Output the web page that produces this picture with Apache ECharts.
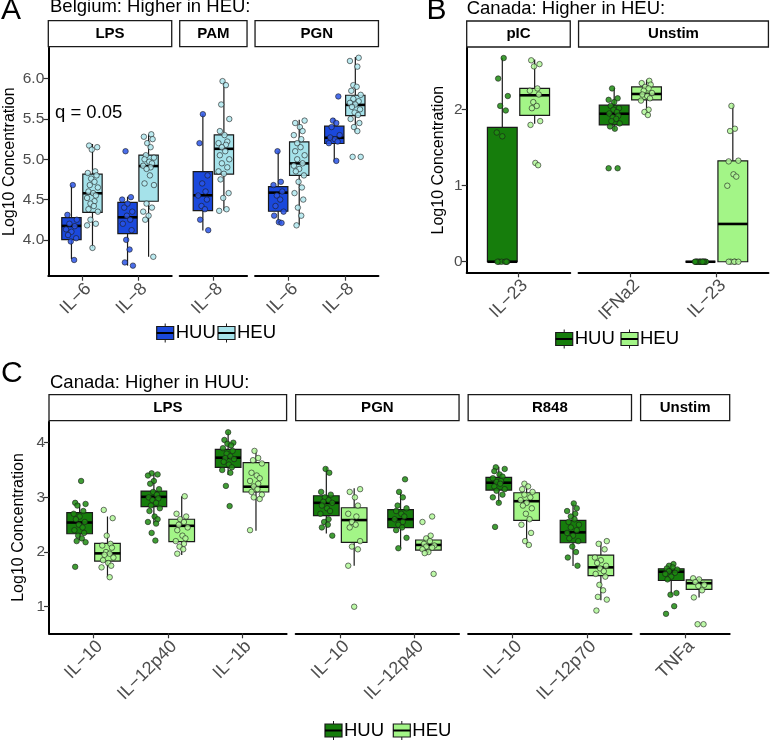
<!DOCTYPE html>
<html><head><meta charset="utf-8">
<script src="https://cdn.jsdelivr.net/npm/echarts@6/dist/echarts.min.js"></script>
<style>html,body{margin:0;padding:0;background:#fff}#c{width:770px;height:741px}</style>
</head><body><div id="c"></div>
<script>
// ---------------- DATA ----------------
// Panel A: Belgium, higher in HEU
const A_facets = ['LPS', 'PAM', 'PGN'];
const A_cats = [['IL−6', 'IL−8'], ['IL−8'], ['IL−6', 'IL−8']];
const A_yTicks = [4.0, 4.5, 5.0, 5.5, 6.0];
// [min, q1, median, q3, max]
const A_HUU_box = [
  [3.76, 4.004, 4.173, 4.276, 4.68],
  [3.68, 4.078, 4.28, 4.466, 4.536],
  [4.116, 4.363, 4.553, 4.846, 5.56],
  [4.21, 4.355, 4.586, 4.66, 5.10],
  [4.97, 5.196, 5.267, 5.411, 5.506]
];
const A_HEU_box = [
  [3.90, 4.342, 4.578, 4.817, 5.19],
  [3.79, 4.479, 4.916, 5.052, 5.31],
  [4.363, 4.817, 5.13, 5.304, 5.968],
  [4.18, 4.80, 4.949, 5.217, 5.49],
  [5.34, 5.543, 5.675, 5.795, 6.27]
];
const A_HUU_pts = [
  [4.68, 4.31, 4.25, 4.20, 4.17, 4.13, 4.10, 4.06, 4.02, 3.98, 3.75],
  [5.10, 4.53, 4.50, 4.45, 4.40, 4.35, 4.30, 4.25, 4.20, 4.12, 4.00, 3.88, 3.72, 3.68],
  [5.56, 5.20, 4.80, 4.70, 4.60, 4.55, 4.50, 4.42, 4.38, 4.25, 4.12],
  [5.10, 4.72, 4.68, 4.60, 4.55, 4.50, 4.42, 4.35, 4.30, 4.22, 4.21],
  [5.78, 5.48, 5.45, 5.40, 5.30, 5.27, 5.25, 5.22, 5.20, 4.98]
];
const A_HEU_pts = [
  [5.17, 5.15, 5.12, 4.85, 4.83, 4.80, 4.76, 4.72, 4.68, 4.65, 4.60, 4.58, 4.55, 4.52, 4.48, 4.45, 4.42, 4.38, 4.35, 4.25, 4.20, 4.18, 3.90],
  [5.31, 5.28, 5.25, 5.20, 5.15, 5.05, 5.02, 5.00, 4.97, 4.95, 4.92, 4.90, 4.88, 4.80, 4.70, 4.68, 4.45, 4.40, 4.35, 4.30, 4.25, 3.79],
  [5.97, 5.92, 5.68, 5.50, 5.35, 5.30, 5.22, 5.20, 5.18, 5.15, 5.10, 5.05, 5.00, 4.95, 4.90, 4.85, 4.82, 4.75, 4.58, 4.52, 4.38, 4.36],
  [5.48, 5.45, 5.40, 5.35, 5.30, 5.25, 5.20, 5.15, 5.10, 5.05, 5.00, 4.95, 4.92, 4.88, 4.85, 4.80, 4.72, 4.65, 4.58, 4.50, 4.40, 4.30, 4.18],
  [6.26, 6.22, 6.15, 5.92, 5.90, 5.85, 5.80, 5.75, 5.72, 5.70, 5.68, 5.65, 5.62, 5.58, 5.55, 5.50, 5.45, 5.40, 5.35, 5.03, 5.03]
];

// Panel B: Canada, higher in HEU
const B_facets = ['pIC', 'Unstim'];
const B_cats = [['IL−23'], ['IFNa2', 'IL−23']];
const B_yTicks = [0, 1, 2];
const B_HUU_box = [
  [0, 0, 0, 1.767, 2.68],
  [1.736, 1.80, 1.947, 2.06, 2.286],
  [0, 0, 0, 0, 0]
];
const B_HEU_box = [
  [1.815, 1.925, 2.19, 2.28, 2.66],
  [1.934, 2.13, 2.207, 2.30, 2.395],
  [0, 0, 0.497, 1.327, 2.066]
];
const B_HUU_pts = [
  [2.68, 2.41, 2.18, 2.05, 1.99, 1.70, 1.65, 0, 0, 0, 0, 0, 0],
  [2.28, 2.15, 2.13, 2.10, 2.05, 2.02, 2.00, 1.97, 1.95, 1.92, 1.90, 1.88, 1.85, 1.82, 1.78, 1.75, 1.23, 1.23],
  [0, 0, 0, 0, 0, 0, 0, 0, 0, 0, 0, 0, 0, 0, 0, 0]
];
const B_HEU_pts = [
  [2.65, 2.60, 2.57, 2.28, 2.25, 2.20, 2.10, 2.05, 2.02, 1.85, 1.80, 1.30, 1.27],
  [2.38, 2.35, 2.33, 2.30, 2.28, 2.25, 2.22, 2.20, 2.18, 2.15, 2.12, 2.00, 1.97, 1.93],
  [2.05, 1.75, 1.72, 1.33, 1.32, 1.15, 1.12, 1.00, 0, 0, 0, 0, 0]
];

// Panel C: Canada, higher in HUU
const C_facets = ['LPS', 'PGN', 'R848', 'Unstim'];
const C_cats = [['IL−10', 'IL−12p40', 'IL−1b'], ['IL−10', 'IL−12p40'], ['IL−10', 'IL−12p70'], ['TNFa']];
const C_yTicks = [1, 2, 3, 4];
const C_HUU_box = [
  [2.22, 2.335, 2.54, 2.72, 2.89],
  [2.52, 2.83, 3.01, 3.116, 3.44],
  [3.41, 3.55, 3.726, 3.878, 4.20],
  [2.34, 2.665, 2.90, 3.03, 3.55],
  [2.07, 2.445, 2.60, 2.775, 3.10],
  [2.89, 3.134, 3.268, 3.366, 3.56],
  [1.744, 2.17, 2.36, 2.58, 2.89],
  [1.21, 1.48, 1.64, 1.695, 1.79]
];
const C_HEU_box = [
  [1.54, 1.835, 1.976, 2.16, 2.65],
  [1.945, 2.19, 2.48, 2.60, 3.02],
  [2.39, 3.098, 3.195, 3.634, 3.866],
  [1.75, 2.177, 2.585, 2.81, 3.165],
  [1.98, 2.037, 2.13, 2.22, 2.30],
  [2.13, 2.58, 2.93, 3.085, 3.256],
  [1.12, 1.57, 1.72, 1.945, 2.19],
  [1.17, 1.317, 1.43, 1.49, 1.52]
];
const C_HUU_pts = [
  [3.30, 2.90, 2.88, 2.85, 2.75, 2.70, 2.65, 2.60, 2.55, 2.50, 2.45, 2.40, 2.35, 2.30, 2.25, 2.20, 2.18, 1.73],
  [3.44, 3.42, 3.40, 3.30, 3.25, 3.15, 3.10, 3.05, 3.00, 2.98, 2.95, 2.90, 2.85, 2.80, 2.75, 2.65, 2.60, 2.55, 2.52, 2.35, 2.21],
  [4.19, 4.05, 4.00, 3.98, 3.95, 3.90, 3.85, 3.80, 3.75, 3.72, 3.70, 3.65, 3.60, 3.55, 3.50, 3.45, 3.21, 2.84],
  [3.52, 3.45, 3.10, 3.05, 3.00, 2.95, 2.92, 2.90, 2.85, 2.80, 2.75, 2.70, 2.60, 2.55, 2.50, 2.45, 2.30],
  [3.33, 3.10, 3.00, 2.85, 2.80, 2.75, 2.70, 2.65, 2.60, 2.55, 2.50, 2.45, 2.40, 2.26, 2.07],
  [3.55, 3.52, 3.48, 3.42, 3.38, 3.35, 3.30, 3.28, 3.25, 3.20, 3.15, 3.12, 3.05, 3.00, 2.90, 2.46],
  [2.89, 2.80, 2.75, 2.70, 2.65, 2.60, 2.55, 2.50, 2.45, 2.40, 2.35, 2.30, 2.25, 2.20, 2.10, 2.00, 1.90, 1.75],
  [1.78, 1.75, 1.72, 1.70, 1.68, 1.65, 1.62, 1.60, 1.55, 1.50, 1.25, 1.22, 1.01, 0.87]
];
const C_HEU_pts = [
  [2.77, 2.62, 2.30, 2.15, 2.12, 2.08, 2.00, 1.97, 1.95, 1.90, 1.85, 1.80, 1.75, 1.72, 1.54],
  [3.02, 2.70, 2.65, 2.60, 2.55, 2.50, 2.45, 2.40, 2.30, 2.25, 2.20, 2.15, 2.10, 2.05, 1.97],
  [3.85, 3.72, 3.68, 3.62, 3.45, 3.40, 3.35, 3.30, 3.25, 3.20, 3.15, 3.10, 3.05, 3.00, 2.97, 2.40],
  [3.15, 3.10, 3.00, 2.85, 2.70, 2.65, 2.55, 2.50, 2.45, 2.20, 2.10, 2.05, 1.75, 1.00],
  [2.65, 2.55, 2.30, 2.25, 2.20, 2.15, 2.12, 2.10, 2.08, 2.05, 2.00, 1.98, 1.60],
  [3.25, 3.20, 3.15, 3.10, 3.05, 3.00, 2.95, 2.90, 2.85, 2.80, 2.70, 2.60, 2.50, 2.35, 2.20, 2.13],
  [2.20, 2.15, 2.05, 1.90, 1.85, 1.80, 1.75, 1.70, 1.65, 1.60, 1.55, 1.40, 1.30, 1.18, 1.13, 0.93],
  [1.52, 1.50, 1.45, 1.40, 1.38, 1.30, 1.17, 0.68, 0.68]
];

const groups = ['HUU', 'HEU'];

// ---------------- LAYOUT / STYLE ----------------
const FONT = '"Liberation Sans", Arial, Helvetica, sans-serif';
const JIT = [0.02, -0.06, 0.08, -0.03, 0.05, -0.08, 0.00, -0.05, 0.07, -0.01, 0.04, -0.07, 0.06, -0.02, 0.03, -0.04, 0.08, -0.06, 0.01, 0.05, -0.08, 0.03, -0.03];
const BOX_W = 0.345, DODGE = 0.1875;
const grids = [], xAxes = [], yAxes = [], series = [], graphics = [];

function boxRender(params, api) {
  const x = api.value(0);
  const pLo = api.coord([x, api.value(1)]);
  const pQ1 = api.coord([x, api.value(2)]);
  const pMed = api.coord([x, api.value(3)]);
  const pQ3 = api.coord([x, api.value(4)]);
  const pHi = api.coord([x, api.value(5)]);
  const hw = api.size([BOX_W, 0])[0] / 2;
  const fill = api.visual('color');
  const ls = { stroke: '#1a1a1a', lineWidth: 1.2 };
  return {
    type: 'group',
    children: [
      { type: 'line', shape: { x1: pLo[0], y1: pLo[1], x2: pQ1[0], y2: pQ1[1] }, style: ls },
      { type: 'line', shape: { x1: pQ3[0], y1: pQ3[1], x2: pHi[0], y2: pHi[1] }, style: ls },
      { type: 'rect', shape: { x: pQ3[0] - hw, y: pQ3[1], width: 2 * hw, height: pQ1[1] - pQ3[1] },
        style: { fill: fill, stroke: '#1a1a1a', lineWidth: 1.2 } },
      { type: 'line', shape: { x1: pMed[0] - hw, y1: pMed[1], x2: pMed[0] + hw, y2: pMed[1] },
        style: { stroke: '#000', lineWidth: 2.6 } }
    ]
  };
}

function textEl(str, x, y, size, opts) {
  opts = opts || {};
  return {
    type: 'text', x: x, y: y, rotation: opts.rotation || 0,
    style: {
      text: str, fill: opts.fill || '#000', fontSize: size, fontFamily: FONT,
      fontWeight: opts.weight || 'normal',
      align: opts.align || 'left', verticalAlign: opts.valign || 'middle',
      textAlign: opts.align || 'left', textVerticalAlign: opts.valign || 'middle'
    }
  };
}

function panel(cfg) {
  let left = cfg.left, g = 0;
  cfg.facets.forEach((fname, f) => {
    const cats = cfg.cats[f], n = cats.length;
    const width = (n + 0.2) * cfg.unit;
    const gi = grids.length;
    grids.push({ left: left, top: cfg.top, width: width, height: cfg.bottom - cfg.top,
      containLabel: false, outerBoundsMode: 'none' });
    const idx = cats.map((_, i) => i);
    xAxes.push({
      type: 'value', gridIndex: gi, min: -0.6, max: n - 0.4,
      axisLine: { show: true, onZero: false, lineStyle: { color: '#000', width: 2 } },
      axisTick: { show: true, customValues: idx, length: 5, lineStyle: { color: '#333', width: 1.2 } },
      axisLabel: { show: true, customValues: idx, formatter: (v) => cats[Math.round(v)], rotate: 45,
        align: 'right', verticalAlign: 'top', margin: 4, fontSize: 18, color: '#4d4d4d', fontFamily: FONT },
      splitLine: { show: false }
    });
    const first = f === 0;
    yAxes.push({
      type: 'value', gridIndex: gi, min: cfg.yMin, max: cfg.yMax, show: first,
      axisLine: { show: true, onZero: false, lineStyle: { color: '#000', width: 2 } },
      axisTick: { show: true, customValues: cfg.yTicks, length: 5, lineStyle: { color: '#333', width: 1.2 } },
      axisLabel: { show: true, customValues: cfg.yTicks, formatter: (v) => cfg.yFmt(v), fontSize: 15.5,
        color: '#4d4d4d', margin: 4, fontFamily: FONT },
      splitLine: { show: false },
      name: first ? 'Log10 Concentration' : '', nameLocation: 'middle', nameGap: cfg.nameGap,
      nameTextStyle: { fontSize: 16, color: '#000', fontFamily: FONT }
    });
    const huuBox = [], heuBox = [], huuPts = [], heuPts = [];
    cats.forEach((c, i) => {
      huuBox.push([i - DODGE].concat(cfg.huuBox[g]));
      heuBox.push([i + DODGE].concat(cfg.heuBox[g]));
      cfg.huuPts[g].forEach((v, k) => huuPts.push([i - DODGE + JIT[(k + g * 3) % JIT.length] * cfg.jit, v]));
      cfg.heuPts[g].forEach((v, k) => heuPts.push([i + DODGE + JIT[(k + g * 3 + 7) % JIT.length] * cfg.jit, v]));
      g++;
    });
    [huuBox, heuBox].forEach((d, s) => series.push({
      type: 'custom', name: groups[s], xAxisIndex: gi, yAxisIndex: gi, renderItem: boxRender, data: d,
      encode: { x: 0, y: [1, 2, 3, 4, 5] }, itemStyle: { color: cfg.colors[s] }, z: 2, silent: true
    }));
    [huuPts, heuPts].forEach((d, s) => series.push({
      type: 'scatter', name: groups[s], xAxisIndex: gi, yAxisIndex: gi, data: d, symbolSize: 5.5,
      itemStyle: { color: cfg.ptColors[s], borderColor: '#1a1a1a', borderWidth: 0.7, opacity: 0.85 },
      z: 3, silent: true
    }));
    // strip
    graphics.push({ type: 'rect', shape: { x: left, y: cfg.top - 27, width: width, height: 26 },
      style: { fill: '#fff', stroke: '#1a1a1a', lineWidth: 1.3 } });
    graphics.push(textEl(fname, left + width / 2, cfg.top - 14, 15, { align: 'center', weight: 'bold' }));
    left += width + cfg.gap;
  });
  // legend
  cfg.legendX.forEach((lx, s) => {
    const yc = cfg.legendY;
    graphics.push({ type: 'line', shape: { x1: lx + 8.5, y1: yc - 9.5, x2: lx + 8.5, y2: yc + 9.5 },
      style: { stroke: '#1a1a1a', lineWidth: 1 } });
    graphics.push({ type: 'rect', shape: { x: lx, y: yc - 6.5, width: 17, height: 13 },
      style: { fill: cfg.colors[s], stroke: '#1a1a1a', lineWidth: 1.2 } });
    graphics.push({ type: 'line', shape: { x1: lx, y1: yc, x2: lx + 17, y2: yc },
      style: { stroke: '#000', lineWidth: 2 } });
    graphics.push(textEl(groups[s], lx + 19, yc, 18.5));
  });
}

panel({ facets: A_facets, cats: A_cats, huuBox: A_HUU_box, heuBox: A_HEU_box, huuPts: A_HUU_pts, heuPts: A_HEU_pts,
  left: 48.3, unit: 56.1, gap: 8, top: 47.7, bottom: 275.7, yMin: 3.555, yMax: 6.385, yTicks: A_yTicks,
  yFmt: (v) => v.toFixed(1), nameGap: 31, jit: 1.2,
  colors: ['#1a48dc', '#a5e2ea'], ptColors: ['#2a55e6', '#b0e8ef'], legendX: [156.7, 218], legendY: 333 });
panel({ facets: B_facets, cats: B_cats, huuBox: B_HUU_box, heuBox: B_HEU_box, huuPts: B_HUU_pts, heuPts: B_HEU_pts,
  left: 466.7, unit: 86.3, gap: 8.3, top: 48, bottom: 272.3, yMin: -0.139, yMax: 2.812, yTicks: B_yTicks,
  yFmt: (v) => String(Math.round(v)), nameGap: 20, jit: 0.8,
  colors: ['#167d0c', '#a3f587'], ptColors: ['#1e8c12', '#b0f798'], legendX: [555.7, 621], legendY: 339 });
panel({ facets: C_facets, cats: C_cats, huuBox: C_HUU_box, heuBox: C_HEU_box, huuPts: C_HUU_pts, heuPts: C_HEU_pts,
  left: 49, unit: 74.25, gap: 9.1, top: 421.7, bottom: 633.3, yMin: 0.514, yMax: 4.384, yTicks: C_yTicks,
  yFmt: (v) => String(Math.round(v)), nameGap: 22, jit: 1.0,
  colors: ['#167d0c', '#a3f587'], ptColors: ['#1e8c12', '#b0f798'], legendX: [325, 393.3], legendY: 730.5 });

// titles and panel letters
graphics.push(textEl('A', 1, 11, 30));
graphics.push(textEl('B', 426.5, 11, 30));
graphics.push(textEl('C', 1, 373.5, 30));
graphics.push(textEl('Belgium: Higher in HEU:', 50, 7, 18.5));
graphics.push(textEl('Canada: Higher in HEU:', 466.7, 8.5, 18.5));
graphics.push(textEl('Canada: Higher in HUU:', 50, 382.7, 18.5));
graphics.push(textEl('q = 0.05', 55, 112.5, 18.5));

const chart = echarts.init(document.getElementById('c'), null, { renderer: 'canvas' });
chart.setOption({
  animation: false,
  backgroundColor: '#fff',
  grid: grids, xAxis: xAxes, yAxis: yAxes, series: series,
  graphic: graphics
});
</script></body></html>
